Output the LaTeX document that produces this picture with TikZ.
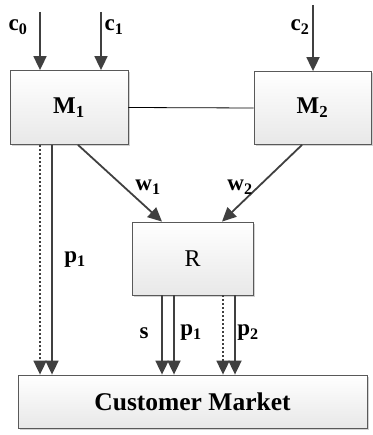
\documentclass[tikz,border=0pt]{standalone}
\usepackage{fontspec}
\setmainfont{Liberation Serif}
\usetikzlibrary{positioning, calc, arrows.meta, shadows}

\begin{document}
\begin{tikzpicture}[x=1pt,y=-1pt, font=\fontsize{24}{28}\selectfont,
	box/.style={shape=rectangle, draw=gray!70!black, line width=0.8pt, top color=white, bottom color=gray!18, drop shadow={shadow xshift=2pt, shadow yshift=-2pt, fill=gray!35, opacity=1}, inner sep=0pt},
	flow/.style={draw=black!75, line width=1.8pt, -{Triangle[length=14pt,width=13pt]}},
	dflow/.style={flow, dash pattern=on 2pt off 2pt},
	lbl/.style={font=\fontsize{23}{26}\selectfont\bfseries, inner sep=0pt}]
\useasboundingbox (0,0) rectangle (372,435);
\node[box, minimum width=118, minimum height=74] (M1) at (69,107.5) {\textbf{M\textsubscript{1}}};
\node[box, minimum width=117, minimum height=73] (M2) at (312.5,108) {\textbf{M\textsubscript{2}}};
\node[box, minimum width=121, minimum height=73] (R) at (192.5,258.5) {R};
\node[box, minimum width=349, minimum height=53, font=\fontsize{25.5}{28}\selectfont] (CM) at (192.5,401.5) {\textbf{Customer Market}};
\draw[line width=0.8pt] (M1.east) -- (M2.west);
% inputs
\coordinate (top c0) at (40,12);
\coordinate (top c1) at (101,12);
\coordinate (top c2) at (313,5);
\foreach \c/\m in {c0/M1, c1/M1, c2/M2} {
	\draw[flow] (top \c) -- (top \c |- \m.north);
}
\node[lbl] (c0 label) at (18,27) {c\textsubscript{0}};
\node[lbl] (c1 label) at (114,27) {c\textsubscript{1}};
\node[lbl] (c2 label) at (300,27) {c\textsubscript{2}};
% wholesale
\draw[flow] ([xshift=9]M1.south) -- ([xshift=-30.5]R.north);
\draw[flow] ([xshift=-10.5]M2.south) -- ([xshift=29.5]R.north);
\node[lbl] (w1 label) at (148,187) {w\textsubscript{1}};
\node[lbl] (w2 label) at (240,187) {w\textsubscript{2}};
% to market
\foreach \dx/\st in {-29/dflow, -17/flow} {
	\draw[\st] ([xshift=\dx]M1.south) -- ([xshift=\dx]M1.south |- CM.north);
}
\foreach \dx/\st in {-30.5/flow, -18.5/flow, 30.5/dflow, 42.5/flow} {
	\draw[\st] ([xshift=\dx]R.south) -- ([xshift=\dx]R.south |- CM.north);
}
\node[lbl] (p1 left) at (75,260) {p\textsubscript{1}};
\node[lbl] (s label) at (144,333) {s};
\node[lbl] (p1 label) at (191,333) {p\textsubscript{1}};
\node[lbl] (p2 label) at (248,333) {p\textsubscript{2}};
\end{tikzpicture}
\end{document}
